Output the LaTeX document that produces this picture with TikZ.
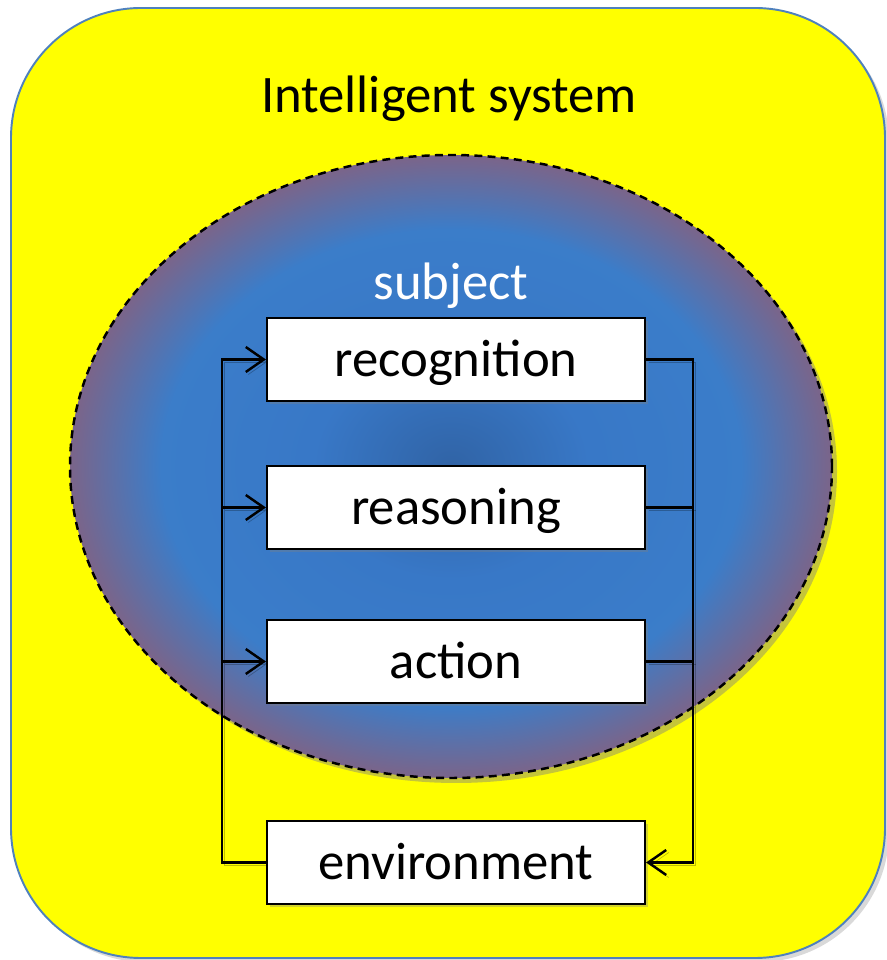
\documentclass[tikz,border=0pt]{standalone}
\usepackage{fontspec}
\setmainfont{Carlito}
\usetikzlibrary{arrows.meta,shadows}

\definecolor{sysyellow}{RGB}{255,255,0}
\definecolor{sysborder}{RGB}{79,129,189}
\pgfdeclareradialshading{subjectshade}{\pgfpoint{0bp}{0bp}}{%
  rgb(0bp)=(0.19,0.39,0.65); rgb(9bp)=(0.22,0.47,0.78); rgb(19bp)=(0.23,0.49,0.79);
  rgb(29bp)=(0.65,0.33,0.37); rgb(50bp)=(0.65,0.33,0.37)}

\tikzset{
  bigtext/.style={font=\fontsize{30}{34}\selectfont},
  stagebox/.style={bigtext, draw=black, line width=1.2pt, fill=white,
    minimum width=7.56cm, minimum height=1.66cm, inner sep=0pt,
    text height=0.7cm, text depth=0cm,
    drop shadow={shadow xshift=0.6mm, shadow yshift=-0.6mm, opacity=0.35}},
  link/.style={line width=1.4pt,
    preaction={draw=black, opacity=0.25, transform canvas={xshift=0.5mm, yshift=-0.5mm}}},
  flow/.style={link, -{Straight Barb[length=3.6mm,width=5mm]}},
}

\begin{document}
\begin{tikzpicture}
\useasboundingbox (0,0) rectangle (17.72,19.2);

% Intelligent system
\draw[draw=sysborder, line width=1.1pt, fill=sysyellow, rounded corners=2.6cm,
  drop shadow={shadow xshift=0.8mm, shadow yshift=-0.8mm, opacity=0.3}]
  (0.22,0.04) rectangle (17.7,19.04);
\node[bigtext, anchor=base] (title) at (8.98,16.94) {Intelligent system};

% subject
\draw[dash pattern=on 4.5pt off 3pt, line width=1.4pt, shading=subjectshade,
  drop shadow={shadow xshift=1mm, shadow yshift=-1mm, opacity=0.45}]
  (9.02,9.87) ellipse [x radius=7.62cm, y radius=6.23cm];
\node[bigtext, text=white, anchor=base] (subj) at (9.02,13.2) {subject};

% Stages
\node[stagebox] (recog) at (9.12,12.01) {recognition};
\node[stagebox] (reason) at (9.12,9.05) {reasoning};
\node[stagebox] (act) at (9.12,5.97) {action};
\node[stagebox] (env) at (9.12,1.95) {environment};

\coordinate (lbus) at (4.44,0);
\coordinate (rbus) at (13.86,0);

% Connectors
\draw[flow] (env.west) -- (env.west -| lbus) |- (recog.west);
\draw[flow] (reason.west -| lbus) -- (reason.west);
\draw[flow] (act.west -| lbus) -- (act.west);
\draw[flow] (recog.east) -- (recog.east -| rbus) |- (env.east);
\draw[link] (reason.east) -- (reason.east -| rbus);
\draw[link] (act.east) -- (act.east -| rbus);
\end{tikzpicture}
\end{document}
